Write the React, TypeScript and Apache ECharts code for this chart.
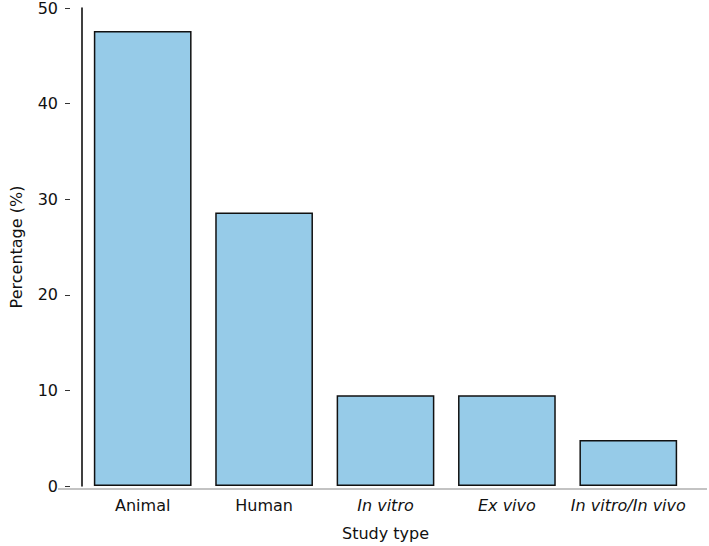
import React, { useEffect, useRef } from "react";
import * as echarts from "echarts";

const categories = ["Animal", "Human", "In vitro", "Ex vivo", "In vitro/In vivo"];
const italicCats = ["In vitro", "Ex vivo", "In vitro/In vivo"];
const percentages = [47.6, 28.6, 9.5, 9.5, 4.8];
const yTicks = [0, 10, 20, 30, 40, 50];

const FONT = "DejaVu Sans, Verdana, sans-serif";
const FS = 16;

export default function App() {
  const ref = useRef<HTMLDivElement>(null);
  useEffect(() => {
    document.body.style.margin = "0";
    if (!ref.current) return;
    const chart = echarts.init(ref.current, null, { renderer: "svg" });
    const gridTop = 7;
    const gridBottom = 57;
    const gridLeft = 75;
    const gridRight = 20;
    const H = 546;
    const W = 709;
    const axisY = H - gridBottom;
    chart.setOption({
      animation: false,
      backgroundColor: "#ffffff",
      grid: { left: gridLeft, right: gridRight, top: gridTop, bottom: gridBottom, containLabel: false },
      xAxis: {
        type: "category",
        data: categories,
        axisLine: { show: false },
        axisTick: { show: true, inside: true, alignWithLabel: true, length: 5, lineStyle: { color: "#444", width: 1 } },
        axisLabel: {
          interval: 0,
          margin: 11,
          fontFamily: FONT,
          fontSize: FS,
          color: "#111",
          formatter: (v: string) => (italicCats.includes(v) ? "{i|" + v + "}" : v),
          rich: { i: { fontStyle: "italic", fontFamily: FONT, fontSize: FS, color: "#111" } },
        },
        name: "Study type",
        nameLocation: "middle",
        nameGap: 39,
        nameTextStyle: { fontFamily: FONT, fontSize: FS, color: "#111" },
        splitLine: { show: false },
      },
      yAxis: [
        {
          type: "value",
          min: 0,
          max: 50,
          interval: 10,
          axisLine: { show: true, lineStyle: { color: "#000", width: 1.5 } },
          axisTick: { show: false },
          axisLabel: { show: false },
          splitLine: { show: false },
        },
        {
          type: "value",
          position: "left",
          offset: 12,
          min: yTicks[0],
          max: yTicks[yTicks.length - 1],
          interval: 10,
          axisLine: { show: false },
          axisTick: { show: true, length: 5, lineStyle: { color: "#333", width: 1 } },
          axisLabel: { margin: 12, fontFamily: FONT, fontSize: FS, color: "#111" },
          splitLine: { show: false },
          name: "Percentage (%)",
          nameLocation: "middle",
          nameGap: 46,
          nameTextStyle: { fontFamily: FONT, fontSize: FS, color: "#111" },
        },
      ],
      graphic: [
        {
          type: "line",
          shape: { x1: 58, y1: axisY, x2: W - 2, y2: axisY },
          style: { stroke: "#888", lineWidth: 1.2 },
          z: 10,
        },
      ],
      series: [
        {
          type: "bar",
          yAxisIndex: 0,
          data: percentages,
          barCategoryGap: "19.5%",
          itemStyle: { color: "#96CBE8", borderColor: "#111", borderWidth: 1.5 },
        },
      ],
    });
    return () => chart.dispose();
  }, []);
  return <div ref={ref} style={{ width: 709, height: 546 }} />;
}
